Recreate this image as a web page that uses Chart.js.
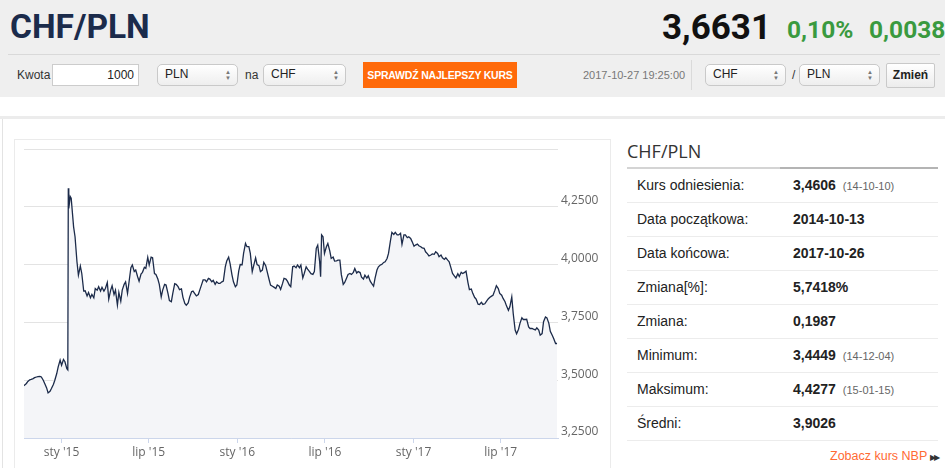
<!DOCTYPE html>
<html lang="pl">
<head>
<meta charset="utf-8">
<title>CHF/PLN</title>
<script src="https://cdn.jsdelivr.net/npm/chart.js@4.4.0/dist/chart.umd.min.js"></script>
<style>
  html, body { margin: 0; padding: 0; }
  body { width: 945px; height: 468px; overflow: hidden; position: relative; background: #fff;
         font-family: Arial, "Liberation Sans", sans-serif; color: #222; }
  .abs { position: absolute; }
  #head { left: 0; top: 0; width: 945px; height: 97px; background: #efefef; }
  .big { font-family: Roboto, Arial, sans-serif; line-height: 1; white-space: nowrap; }
  #title { left: 10px; top: 10px; font-size: 33.5px; font-weight: 700; color: #1b2b4b; }
  #price { left: 662px; top: 10px; font-size: 35px; font-weight: 700; color: #111; }
  .green { top: 18px; font-size: 24.5px; font-weight: 700; color: #3a9a3f; }
  #sep { left: 8px; top: 54px; width: 932px; height: 1px; background: #d9d9d9; }
  .lbl { font-size: 12px; line-height: 22px; top: 64px; color: #333; }
  .inp { top: 64px; height: 20px; border: 1px solid #ccc; background: #fff; font-size: 12px;
         line-height: 20px; text-align: right; padding-right: 4px; box-sizing: content-box; }
  .sel { top: 64px; height: 20px; border: 1px solid #c9c9c9; border-radius: 5px;
         background: linear-gradient(#ffffff, #eeeeee); font-size: 12px; line-height: 19px; }
  .sel span.t { position: absolute; left: 7px; top: 0; }
  .sel span.a { position: absolute; right: 6px; top: 4px; font-size: 6px; line-height: 6px; color: #777; }
  #btn { left: 363px; top: 62px; width: 154px; height: 26px; background: #ff6a0a; color: #fff;
         font-size: 10.5px; font-weight: 700; line-height: 26px; text-align: center; letter-spacing: -0.2px; }
  #stamp { left: 583px; top: 64px; font-size: 11px; line-height: 22px; color: #777; }
  #vsep { left: 691px; top: 60px; width: 1px; height: 30px; background: #dadada; }
  #zmien { left: 886px; top: 63px; width: 47px; height: 23px; border: 1px solid #c9c9c9; border-radius: 2px;
           background: linear-gradient(#ffffff, #ececec); font-size: 12px; font-weight: 700;
           line-height: 23px; text-align: center; }
  #band { left: 0; top: 116px; width: 945px; height: 3px; background: #ececec; }
  #leftline { left: 2px; top: 119px; width: 1px; height: 349px; background: #e3e3e3; }
  #box { left: 14px; top: 139px; width: 597px; height: 340px; border: 1px solid #ebebeb; box-sizing: border-box; }
  #chartWrap { left: 14px; top: 139px; width: 598px; height: 329px; }
  #ptitle { left: 627px; top: 142px; font-family: "Open Sans", Arial, sans-serif; font-size: 18px;
            line-height: 18px; color: #333; }
  #ul1 { left: 627px; top: 167px; width: 153px; height: 2px; background: #d4d4d4; }
  #ul2 { left: 780px; top: 167px; width: 158px; height: 2px; background: #b4b4b4; }
  #stats { left: 627px; top: 169px; width: 311px; }
  .row { position: relative; height: 33px; border-bottom: 1px solid #ececec; font-size: 14px; line-height: 33px; }
  .row .k { position: absolute; left: 10px; top: 0; color: #222; }
  .row .v { position: absolute; left: 166px; top: 0; font-weight: 700; color: #222; }
  .row .v small { font-size: 11px; font-weight: 400; color: #666; margin-left: 7px; }
  #nbp { left: 830px; top: 448px; font-size: 12.5px; line-height: 16px; color: #ff6a33; white-space: nowrap; }
  #nbp span { font-size: 8px; color: #333; margin-left: 3px; letter-spacing: -2px; }
</style>
</head>
<body>
<div id="head" class="abs"></div>
<div id="title" class="abs big">CHF/PLN</div>
<div id="price" class="abs big">3,6631</div>
<div class="abs big green" style="left:787px">0,10%</div>
<div class="abs big green" style="left:869px">0,0038</div>
<div id="sep" class="abs"></div>

<div class="abs lbl" style="left:17px">Kwota</div>
<div class="abs inp" style="left:52px;width:81px">1000</div>
<div class="abs sel" style="left:157px;width:79px"><span class="t">PLN</span><span class="a">▲<br>▼</span></div>
<div class="abs lbl" style="left:245px">na</div>
<div class="abs sel" style="left:263px;width:81px"><span class="t">CHF</span><span class="a">▲<br>▼</span></div>
<div id="btn" class="abs">SPRAWDŹ NAJLEPSZY KURS</div>
<div id="stamp" class="abs">2017-10-27 19:25:00</div>
<div id="vsep" class="abs"></div>
<div class="abs sel" style="left:705px;width:79px"><span class="t">CHF</span><span class="a">▲<br>▼</span></div>
<div class="abs lbl" style="left:792px">/</div>
<div class="abs sel" style="left:799px;width:79px"><span class="t">PLN</span><span class="a">▲<br>▼</span></div>
<div id="zmien" class="abs">Zmień</div>

<div id="band" class="abs"></div>
<div id="leftline" class="abs"></div>
<div id="box" class="abs"></div>
<div id="chartWrap" class="abs"><canvas id="chartRate"></canvas></div>

<div id="ptitle" class="abs">CHF/PLN</div>
<div id="ul1" class="abs"></div>
<div id="ul2" class="abs"></div>
<div id="stats" class="abs"></div>
<div id="nbp" class="abs">Zobacz kurs NBP<span>▶▶</span></div>

<script>
// kurs CHF/PLN - odczyt z wykresu (poniedzialki i czwartki)
const dates = [
  '2014-10-13','2014-10-16','2014-10-20','2014-10-23','2014-10-27','2014-10-30','2014-11-03','2014-11-06',
  '2014-11-10','2014-11-13','2014-11-17','2014-11-20','2014-11-24','2014-11-27','2014-12-01','2014-12-04',
  '2014-12-08','2014-12-11','2014-12-15','2014-12-18','2014-12-22','2014-12-25','2014-12-29','2015-01-01',
  '2015-01-05','2015-01-08','2015-01-12','2015-01-14','2015-01-15','2015-01-16','2015-01-19','2015-01-21',
  '2015-01-26','2015-01-29','2015-02-02','2015-02-05','2015-02-09','2015-02-12','2015-02-16','2015-02-19',
  '2015-02-23','2015-02-26','2015-03-02','2015-03-05','2015-03-09','2015-03-12','2015-03-16','2015-03-19',
  '2015-03-23','2015-03-26','2015-03-30','2015-04-02','2015-04-06','2015-04-09','2015-04-13','2015-04-16',
  '2015-04-20','2015-04-23','2015-04-27','2015-04-30','2015-05-04','2015-05-07','2015-05-11','2015-05-14',
  '2015-05-18','2015-05-21','2015-05-25','2015-05-28','2015-06-01','2015-06-04','2015-06-08','2015-06-11',
  '2015-06-15','2015-06-18','2015-06-22','2015-06-25','2015-06-29','2015-07-02','2015-07-06','2015-07-09',
  '2015-07-13','2015-07-16','2015-07-20','2015-07-23','2015-07-27','2015-07-30','2015-08-03','2015-08-06',
  '2015-08-10','2015-08-13','2015-08-17','2015-08-20','2015-08-24','2015-08-27','2015-08-31','2015-09-03',
  '2015-09-07','2015-09-10','2015-09-14','2015-09-17','2015-09-21','2015-09-24','2015-09-28','2015-10-01',
  '2015-10-05','2015-10-08','2015-10-12','2015-10-15','2015-10-19','2015-10-22','2015-10-26','2015-10-29',
  '2015-11-02','2015-11-05','2015-11-09','2015-11-12','2015-11-16','2015-11-19','2015-11-23','2015-11-26',
  '2015-11-30','2015-12-03','2015-12-07','2015-12-10','2015-12-14','2015-12-17','2015-12-21','2015-12-24',
  '2015-12-28','2015-12-31','2016-01-04','2016-01-07','2016-01-11','2016-01-14','2016-01-18','2016-01-21',
  '2016-01-25','2016-01-28','2016-02-01','2016-02-04','2016-02-08','2016-02-11','2016-02-15','2016-02-18',
  '2016-02-22','2016-02-25','2016-02-29','2016-03-03','2016-03-07','2016-03-10','2016-03-14','2016-03-17',
  '2016-03-21','2016-03-24','2016-03-28','2016-03-31','2016-04-04','2016-04-07','2016-04-11','2016-04-14',
  '2016-04-18','2016-04-21','2016-04-25','2016-04-28','2016-05-02','2016-05-05','2016-05-09','2016-05-12',
  '2016-05-16','2016-05-19','2016-05-23','2016-05-26','2016-05-30','2016-06-02','2016-06-06','2016-06-09',
  '2016-06-13','2016-06-16','2016-06-20','2016-06-22','2016-06-24','2016-06-27','2016-06-30','2016-07-04',
  '2016-07-07','2016-07-11','2016-07-14','2016-07-18','2016-07-21','2016-07-25','2016-07-28','2016-08-01',
  '2016-08-04','2016-08-08','2016-08-11','2016-08-15','2016-08-18','2016-08-22','2016-08-25','2016-08-29',
  '2016-09-01','2016-09-05','2016-09-08','2016-09-12','2016-09-15','2016-09-19','2016-09-22','2016-09-26',
  '2016-09-29','2016-10-03','2016-10-06','2016-10-10','2016-10-13','2016-10-17','2016-10-20','2016-10-24',
  '2016-10-27','2016-10-31','2016-11-03','2016-11-07','2016-11-10','2016-11-14','2016-11-17','2016-11-21',
  '2016-11-24','2016-11-28','2016-12-01','2016-12-05','2016-12-08','2016-12-12','2016-12-15','2016-12-19',
  '2016-12-22','2016-12-26','2016-12-29','2017-01-02','2017-01-05','2017-01-09','2017-01-12','2017-01-16',
  '2017-01-19','2017-01-23','2017-01-26','2017-01-30','2017-02-02','2017-02-06','2017-02-09','2017-02-13',
  '2017-02-16','2017-02-20','2017-02-23','2017-02-27','2017-03-02','2017-03-06','2017-03-09','2017-03-13',
  '2017-03-16','2017-03-20','2017-03-23','2017-03-27','2017-03-30','2017-04-03','2017-04-06','2017-04-10',
  '2017-04-13','2017-04-17','2017-04-20','2017-04-24','2017-04-27','2017-05-01','2017-05-04','2017-05-08',
  '2017-05-11','2017-05-15','2017-05-18','2017-05-22','2017-05-25','2017-05-29','2017-06-01','2017-06-05',
  '2017-06-08','2017-06-12','2017-06-15','2017-06-19','2017-06-22','2017-06-26','2017-06-29','2017-07-03',
  '2017-07-06','2017-07-10','2017-07-13','2017-07-17','2017-07-20','2017-07-24','2017-07-27','2017-07-31',
  '2017-08-03','2017-08-07','2017-08-10','2017-08-14','2017-08-17','2017-08-21','2017-08-24','2017-08-28',
  '2017-08-31','2017-09-04','2017-09-07','2017-09-11','2017-09-14','2017-09-18','2017-09-21','2017-09-25',
  '2017-09-28','2017-10-02','2017-10-05','2017-10-09','2017-10-12','2017-10-16','2017-10-19','2017-10-23',
  '2017-10-26'
];
const rates = [
  3.475, 3.478, 3.486, 3.495, 3.502, 3.504, 3.507, 3.511,
  3.514, 3.516, 3.517, 3.514, 3.500, 3.486, 3.467, 3.445,
  3.452, 3.464, 3.482, 3.500, 3.529, 3.558, 3.587, 3.565,
  3.590, 3.580, 3.550, 3.545, 4.331, 4.244, 4.295, 4.288,
  4.164, 4.121, 4.013, 3.955, 3.994, 3.962, 3.886, 3.887,
  3.865, 3.880, 3.857, 3.871, 3.857, 3.897, 3.890, 3.905,
  3.886, 3.902, 3.886, 3.897, 3.923, 3.851, 3.890, 3.909,
  3.871, 3.890, 3.825, 3.880, 3.842, 3.890, 3.915, 3.926,
  3.876, 3.923, 3.987, 3.999, 3.971, 3.977, 3.948, 3.929,
  3.960, 3.967, 3.989, 3.984, 4.032, 3.999, 4.033, 4.030,
  3.962, 3.958, 3.938, 3.915, 3.861, 3.890, 3.915, 3.912,
  3.876, 3.845, 3.840, 3.876, 3.918, 3.915, 3.905, 3.892,
  3.895, 3.860, 3.832, 3.825, 3.835, 3.860, 3.883, 3.886,
  3.874, 3.865, 3.871, 3.890, 3.915, 3.934, 3.934, 3.926,
  3.941, 3.938, 3.926, 3.932, 3.915, 3.926, 3.919, 3.919,
  3.926, 3.929, 3.991, 4.016, 4.033, 4.005, 3.955, 3.926,
  3.905, 3.912, 3.973, 4.001, 4.000, 4.049, 4.092, 4.078,
  4.078, 4.049, 3.970, 3.996, 4.030, 4.001, 3.996, 3.970,
  3.977, 4.010, 3.996, 3.970, 3.936, 3.912, 3.907, 3.903,
  3.897, 3.912, 3.907, 3.893, 3.919, 3.941, 3.938, 3.929,
  3.912, 3.905, 3.991, 3.994, 3.987, 3.999, 3.987, 3.999,
  3.943, 3.962, 3.991, 3.981, 3.970, 3.961, 3.958, 3.970,
  4.071, 4.085, 4.013, 3.948, 4.129, 4.121, 4.049, 4.078,
  4.092, 4.060, 4.027, 4.033, 4.016, 4.017, 4.020, 4.020,
  3.958, 3.915, 3.923, 3.943, 3.958, 3.962, 3.958, 3.967,
  3.984, 3.964, 3.970, 3.966, 3.946, 3.938, 3.955, 3.942,
  3.952, 3.929, 3.919, 3.907, 3.941, 3.977, 3.991, 3.999,
  4.001, 4.010, 4.013, 4.027, 4.049, 4.103, 4.140, 4.131,
  4.140, 4.129, 4.129, 4.136, 4.088, 4.129, 4.129, 4.117,
  4.121, 4.114, 4.100, 4.080, 4.085, 4.089, 4.082, 4.078,
  4.073, 4.071, 4.056, 4.047, 4.038, 4.042, 4.047, 4.045,
  4.056, 4.049, 4.035, 4.042, 4.030, 4.023, 4.030, 4.020,
  4.013, 3.984, 3.962, 3.951, 3.943, 3.961, 3.949, 3.967,
  3.962, 3.967, 3.972, 3.923, 3.892, 3.895, 3.876, 3.858,
  3.851, 3.829, 3.828, 3.837, 3.828, 3.831, 3.840, 3.852,
  3.858, 3.864, 3.868, 3.890, 3.909, 3.897, 3.876, 3.868,
  3.854, 3.840, 3.822, 3.803, 3.818, 3.861, 3.789, 3.717,
  3.701, 3.721, 3.746, 3.770, 3.763, 3.763, 3.764, 3.731,
  3.724, 3.724, 3.721, 3.718, 3.727, 3.717, 3.695, 3.702,
  3.753, 3.774, 3.770, 3.746, 3.712, 3.695, 3.681, 3.659,
  3.659
];
const tickDates = ['2015-01-01', '2015-07-01', '2016-01-01', '2016-07-01', '2017-01-01', '2017-07-01'];
const tickLabels = ["sty '15", "lip '15", "sty '16", "lip '16", "sty '17", "lip '17"];

// tabelka po prawej
const statNames = ['Kurs odniesienia:', 'Data początkowa:', 'Data końcowa:', 'Zmiana[%]:', 'Zmiana:', 'Minimum:', 'Maksimum:', 'Średni:'];
const statValues = ['3,4606', '2014-10-13', '2017-10-26', '5,7418%', '0,1987', '3,4449', '4,4277', '3,9026'];
const statDates = ['14-10-10', '', '', '', '', '14-12-04', '15-01-15', ''];

const stats = document.getElementById('stats');
statNames.forEach((name, i) => {
    const row = document.createElement('div');
    row.className = 'row';
    row.innerHTML = '<span class="k">' + name + '</span><span class="v">' + statValues[i] +
        (statDates[i] ? '<small>(' + statDates[i] + ')</small>' : '') + '</span>';
    stats.appendChild(row);
});

function dayNum(s) {
    const p = s.split('-');
    return Date.UTC(+p[0], +p[1] - 1, +p[2]) / 86400000;
}

const points = [];
dates.forEach((d, i) => {
    points.push({ x: dayNum(d), y: rates[i] });
});

const axisFont = { family: "'Open Sans'", size: 12 };

const config = {
    type: 'line',
    data: {
        datasets: [{
            data: points,
            borderColor: '#1c2b4a',
            borderWidth: 1.3,
            backgroundColor: '#f4f5f8',
            fill: 'start',
            pointRadius: 0,
            tension: 0
        }]
    },
    options: {
        responsive: true,
        maintainAspectRatio: false,
        animation: false,
        layout: { padding: { left: 10, top: 9, right: 0, bottom: 0 } },
        plugins: { legend: { display: false }, tooltip: { enabled: false } },
        scales: {
            x: {
                type: 'linear',
                min: dayNum('2014-10-15'),
                max: dayNum('2017-10-28'),
                afterBuildTicks: scale => {
                    scale.ticks = tickDates.map(d => ({ value: dayNum(d) }));
                },
                afterFit: scale => { scale.height = 30; },
                grid: { drawOnChartArea: false, drawTicks: true, tickLength: 5, tickColor: '#ccd6eb' },
                border: { color: '#ccd6eb' },
                ticks: {
                    autoSkip: false, maxRotation: 0, padding: 2, color: '#666', font: axisFont,
                    callback: (v, i) => tickLabels[i]
                }
            },
            y: {
                position: 'right',
                min: 3.25,
                max: 4.5,
                afterFit: scale => { scale.width = 54; },
                grid: { color: '#e3e3e3', drawTicks: false },
                border: { display: false },
                ticks: {
                    stepSize: 0.25, padding: 3, labelOffset: -6, color: '#666', font: axisFont,
                    callback: v => v >= 4.5 ? '' : v.toFixed(4).replace('.', ',')
                }
            }
        }
    }
};

const rateChart = new Chart(document.getElementById('chartRate'), config);
</script>
</body>
</html>
